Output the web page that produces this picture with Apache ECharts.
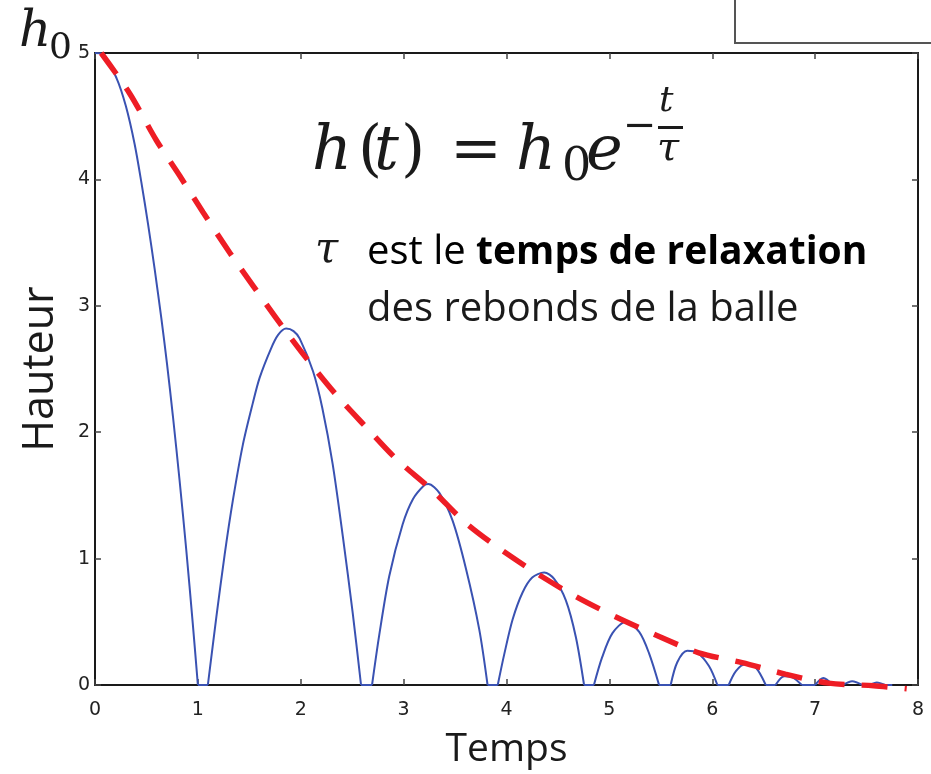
<!DOCTYPE html>
<html>
<head>
<meta charset="utf-8">
<script src="https://cdn.jsdelivr.net/npm/echarts@6/dist/echarts.min.js"></script>
<style>
  html, body { margin: 0; padding: 0; background: #ffffff; }
  #chart { width: 931px; height: 774px; }
</style>
</head>
<body>
<div id="chart"></div>
<script>
// Axis ticks
const timeTicks = [0, 1, 2, 3, 4, 5, 6, 7, 8];
const heightTicks = [0, 1, 2, 3, 4, 5];

// Bouncing ball: sampled height vs time
const bounceTime = [
  0, 0.078, 0.21, 0.30, 0.385, 0.45, 0.515, 0.58, 0.645, 0.70, 0.757, 0.822, 0.887, 0.95, 1.0,
  1.097, 1.18, 1.26, 1.34, 1.437, 1.534, 1.60, 1.71, 1.78, 1.858, 1.93, 1.99, 2.12, 2.21, 2.31, 2.41, 2.505, 2.586,
  2.693, 2.764, 2.86, 2.99, 3.09, 3.20, 3.24, 3.347, 3.476, 3.606, 3.735, 3.816,
  3.915, 3.98, 4.06, 4.155, 4.25, 4.366, 4.463, 4.577, 4.674, 4.754,
  4.85, 4.93, 5.03, 5.16, 5.29, 5.386, 5.483,
  5.596, 5.66, 5.757, 5.854, 5.968, 6.05,
  6.16, 6.23, 6.32, 6.42, 6.52,
  6.615, 6.70, 6.78, 6.87,
  7.0, 7.08, 7.17,
  7.27, 7.36, 7.46,
  7.53, 7.60, 7.68, 7.75
];
const bounceHeight = [
  5, 4.99, 4.80, 4.58, 4.28, 3.98, 3.65, 3.29, 2.90, 2.54, 2.13, 1.62, 1.07, 0.49, 0,
  0, 0.54, 1.03, 1.46, 1.90, 2.23, 2.43, 2.66, 2.77, 2.82, 2.80, 2.74, 2.48, 2.19, 1.75, 1.17, 0.57, 0,
  0, 0.40, 0.86, 1.27, 1.47, 1.58, 1.59, 1.52, 1.30, 0.92, 0.44, 0,
  0, 0.25, 0.52, 0.73, 0.85, 0.89, 0.84, 0.67, 0.38, 0,
  0, 0.22, 0.41, 0.50, 0.42, 0.25, 0,
  0, 0.18, 0.27, 0.255, 0.15, 0,
  0, 0.11, 0.164, 0.14, 0,
  0, 0.07, 0.06, 0,
  0, 0.055, 0,
  0, 0.03, 0,
  0, 0.02, 0, 0
];

// Exponential envelope h0·exp(-t/τ)
const envelopeTime = [
  0.06, 0.337, 0.596, 0.822, 1.05, 1.31, 1.535, 1.79, 2.05, 2.34, 2.635, 2.926, 3.28,
  3.606, 3.93, 4.30, 4.674, 5.06, 5.467, 5.87, 6.29, 6.71, 7.13, 7.57, 7.89
];
const envelopeHeight = [
  5.0, 4.68, 4.31, 4.03, 3.74, 3.42, 3.16, 2.87, 2.59, 2.30, 2.04, 1.79, 1.54,
  1.28, 1.08, 0.88, 0.70, 0.54, 0.39, 0.255, 0.177, 0.086, 0.015, -0.006, -0.03
];

// Split the bounce trajectory into flight arcs (smoothed) and ground contacts (straight)
const bouncePoints = bounceTime.map((t, i) => [t, bounceHeight[i]]);
const flights = [];
const contacts = [];
let arc = [bouncePoints[0]];
for (let i = 1; i < bouncePoints.length; i++) {
  const prev = bouncePoints[i - 1];
  const cur = bouncePoints[i];
  if (prev[1] === 0 && cur[1] === 0) {
    if (arc.length > 1) flights.push(arc);
    contacts.push([prev, cur]);
    arc = [cur];
  } else {
    arc.push(cur);
  }
}
if (arc.length > 1) flights.push(arc);

const envelopeData = envelopeTime.map((t, i) => [t, envelopeHeight[i]]);

const ballColor = '#3a52b2';
const frameColor = '#1a1a1a';
const tickStyle = { show: true, inside: true, length: 6, lineStyle: { color: '#444', width: 1.5 } };
const tickFont = { fontFamily: 'DejaVu Sans', fontSize: 19, color: '#222' };
const textFont = '"Open Sans", sans-serif';
const mathFont = '"DejaVu Serif", serif';

function mathText(x, y, text, size, italic) {
  return {
    type: 'text', z: 100, silent: true,
    style: {
      x: x, y: y, text: text,
      font: (italic ? 'italic ' : '') + size + 'px ' + mathFont,
      fill: '#1a1a1a', align: 'left', verticalAlign: 'middle'
    }
  };
}

const series = [];
flights.forEach(pts => series.push({
  type: 'line', name: 'rebonds', data: pts,
  showSymbol: false, smooth: 0.3,
  lineStyle: { color: ballColor, width: 2 }, z: 2
}));
contacts.forEach(pts => series.push({
  type: 'line', name: 'rebonds', data: pts,
  showSymbol: false, smooth: false,
  lineStyle: { color: ballColor, width: 2 }, z: 2
}));
series.push({
  type: 'line', name: 'enveloppe', data: envelopeData,
  showSymbol: false, smooth: 0.3, clip: false,
  lineStyle: { color: '#ee1d25', width: 5.5, type: [26, 17], cap: 'butt' },
  z: 3
});

const chart = echarts.init(document.getElementById('chart'), null, { renderer: 'canvas' });

chart.setOption({
  animation: false,
  backgroundColor: '#ffffff',
  grid: { left: 95, top: 53, right: 13, bottom: 85, containLabel: false },
  xAxis: [
    {
      type: 'value', min: timeTicks[0], max: timeTicks[timeTicks.length - 1], interval: 1,
      name: 'Temps', nameLocation: 'middle', nameGap: 45,
      nameTextStyle: { fontFamily: textFont, fontSize: 39, color: '#1a1a1a' },
      axisLine: { show: true, onZero: false, lineStyle: { color: frameColor, width: 2 } },
      axisTick: tickStyle,
      axisLabel: Object.assign({ margin: 16, formatter: v => String(v) }, tickFont),
      splitLine: { show: false }
    },
    {
      type: 'value', position: 'top', min: timeTicks[0], max: timeTicks[timeTicks.length - 1], interval: 1,
      axisLine: { show: true, onZero: false, lineStyle: { color: frameColor, width: 2 } },
      axisTick: tickStyle, axisLabel: { show: false }, splitLine: { show: false }
    }
  ],
  yAxis: [
    {
      type: 'value', min: heightTicks[0], max: heightTicks[heightTicks.length - 1], interval: 1,
      name: 'Hauteur', nameLocation: 'middle', nameGap: 33, nameRotate: 90,
      nameTextStyle: { fontFamily: textFont, fontSize: 43, color: '#1a1a1a' },
      axisLine: { show: true, onZero: false, lineStyle: { color: frameColor, width: 2 } },
      axisTick: tickStyle,
      axisLabel: Object.assign({ margin: 5, formatter: v => String(v) }, tickFont),
      splitLine: { show: false }
    },
    {
      type: 'value', position: 'right', min: heightTicks[0], max: heightTicks[heightTicks.length - 1], interval: 1,
      axisLine: { show: true, onZero: false, lineStyle: { color: frameColor, width: 2 } },
      axisTick: tickStyle, axisLabel: { show: false }, splitLine: { show: false }
    }
  ],
  series: series,
  graphic: [
    // partial frame at the top-right corner
    { type: 'polyline', silent: true, shape: { points: [[735, 0], [735, 43], [931, 43]] },
      style: { stroke: '#555', lineWidth: 2, fill: null } },
    // h0 marker next to the top tick
    mathText(19, 33, 'h', 50, true),
    mathText(49, 49, '0', 36, false),
    // h(t) = h0 e^(-t/τ)
    mathText(312, 153, 'h', 62, true),
    mathText(358, 153, '(', 62, false),
    mathText(374, 153, 't', 62, true),
    mathText(401, 153, ')', 62, false),
    mathText(450, 153, '=', 62, false),
    mathText(516, 153, 'h', 62, true),
    mathText(562, 168, '0', 46, false),
    mathText(586, 153, 'e', 62, true),
    mathText(623, 128, '\u2212', 40, false),
    mathText(659, 102, 't', 36, true),
    { type: 'line', silent: true, shape: { x1: 658, y1: 127.5, x2: 683, y2: 127.5 },
      style: { stroke: '#1a1a1a', lineWidth: 3 } },
    mathText(657, 150, '\u03C4', 40, true),
    // explanation text
    mathText(315, 251, '\u03C4', 42, true),
    {
      type: 'text', silent: true, z: 100,
      style: {
        x: 367, y: 253, align: 'left', verticalAlign: 'middle',
        text: '{n|est le }{b|temps de relaxation}',
        rich: {
          n: { fontFamily: textFont, fontSize: 40, color: '#1a1a1a' },
          b: { fontFamily: textFont, fontSize: 39, fontWeight: 'bold', color: '#1a1a1a' }
        }
      }
    },
    {
      type: 'text', silent: true, z: 100,
      style: {
        x: 367, y: 310, align: 'left', verticalAlign: 'middle',
        text: 'des rebonds de la balle',
        font: '40px ' + textFont, fill: '#1a1a1a'
      }
    }
  ]
});
</script>
</body>
</html>
